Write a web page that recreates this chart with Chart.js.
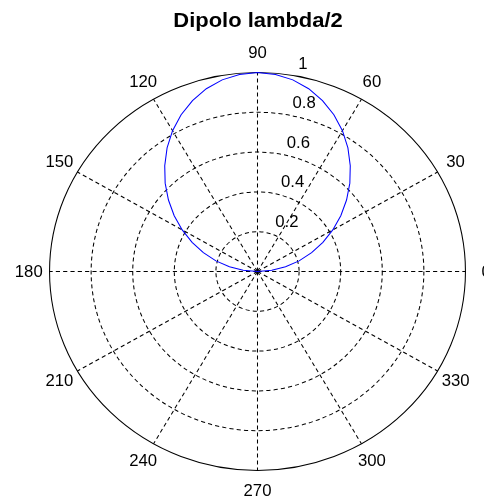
<!DOCTYPE html>
<html>
<head>
<meta charset="utf-8">
<script src="https://cdn.jsdelivr.net/npm/chart.js@4/dist/chart.umd.min.js"></script>
<style>
html,body{margin:0;padding:0;background:#fff;}
#wrap{width:484px;height:500px;position:relative;overflow:hidden;}
</style>
</head>
<body>
<div id="wrap"><canvas id="c"></canvas></div>
<script>
// ---- data ----
const titleText = 'Dipolo lambda/2';
const thetaDeg = [0,5,10,15,20,25,30,35,40,45,50,55,60,65,70,75,80,85,90,
                  95,100,105,110,115,120,125,130,135,140,145,150,155,160,165,170,175,180];
const rho = [0,0.069,0.137,0.207,0.277,0.347,0.418,0.489,0.559,0.628,0.694,0.758,0.817,0.869,0.914,0.951,0.978,0.994,1.000,
             0.994,0.978,0.951,0.914,0.869,0.817,0.758,0.694,0.628,0.559,0.489,0.418,0.347,0.277,0.207,0.137,0.069,0];
const spokeAngles = [0,30,60,90,120,150,180,210,240,270,300,330];
const spokeLabels = ['0','30','60','90','120','150','180','210','240','270','300','330'];
const tickValues = [0.2,0.4,0.6,0.8,1];
const tickLabels = ['0.2','0.4','0.6','0.8','1'];

// ---- radar categories: clockwise from top = counter-clockwise polar angles from 90 ----
const STEP = 5;
const N = 360 / STEP;
const radarAngles = Array.from({length: N}, (_, i) => (((90 - i * STEP) % 360) + 360) % 360);
const radarData = radarAngles.map(a => { const k = thetaDeg.indexOf(a); return k >= 0 ? rho[k] : null; });

const FONT = '"Liberation Sans", Arial, sans-serif';
const SX = 1.045; // reference is slightly wider than tall

function polarPos(s, deg, dist) {
  const a = -deg * Math.PI / 180;
  return { x: s.xCenter + Math.cos(a) * dist, y: s.yCenter + Math.sin(a) * dist };
}

const polarDecor = {
  id: 'polarDecor',
  beforeDraw(chart) {
    const s = chart.scales.r, ctx = chart.ctx;
    ctx.save();
    ctx.translate(0.5, 0.5);
    ctx.translate(s.xCenter, 0);
    ctx.scale(SX, 1);
    ctx.translate(-s.xCenter, 0);
  },
  afterDraw(chart) {
    const s = chart.scales.r, ctx = chart.ctx;
    try {
      ctx.save();
      ctx.fillStyle = '#000';
      ctx.font = '16px ' + FONT;
      ctx.textAlign = 'center';
      ctx.textBaseline = 'middle';
      const rOut = s.getDistanceFromCenterForValue(s.max) * 1.1;
      spokeAngles.forEach((a, k) => {
        const p = polarPos(s, a, rOut);
        ctx.fillText(spokeLabels[k], p.x, p.y + 1);
      });
      ctx.textAlign = 'left';
      ctx.textBaseline = 'alphabetic';
      tickValues.forEach((v, k) => {
        const p = polarPos(s, 82, s.getDistanceFromCenterForValue(v));
        ctx.fillText(tickLabels[k], p.x + 11.4, p.y - 5.5);
      });
      ctx.restore();
    } finally {
      ctx.restore();
    }
  }
};

new Chart(document.getElementById('c'), {
  type: 'radar',
  data: {
    labels: radarAngles.map(String),
    datasets: [{
      data: radarData,
      borderColor: '#0000ff',
      borderWidth: 1,
      pointRadius: 0,
      pointHoverRadius: 0,
      fill: false,
      tension: 0,
      spanGaps: false
    }]
  },
  options: {
    responsive: true,
    maintainAspectRatio: false,
    animation: false,
    devicePixelRatio: 1,
    layout: { padding: { left: 58, right: 27, top: 0, bottom: 29 } },
    plugins: {
      legend: { display: false },
      tooltip: { enabled: false },
      title: {
        display: true,
        text: titleText,
        color: '#000',
        font: { family: FONT, size: 21, weight: 'bold', lineHeight: 1.2 },
        padding: { top: 8, bottom: 38.8 }
      }
    },
    scales: {
      r: {
        min: 0,
        max: 1,
        startAngle: 0,
        ticks: { stepSize: 0.2, display: false },
        grid: { circular: true, color: '#000', lineWidth: 1 },
        border: { dash: ctx => (ctx.index === 5 ? [] : [4, 3]) },
        angleLines: {
          display: true,
          color: '#000',
          lineWidth: ctx => (ctx.index % 6 === 0 ? 1 : 0),
          borderDash: [4, 3]
        },
        pointLabels: { display: false }
      }
    }
  },
  plugins: [polarDecor]
});
</script>
</body>
</html>
